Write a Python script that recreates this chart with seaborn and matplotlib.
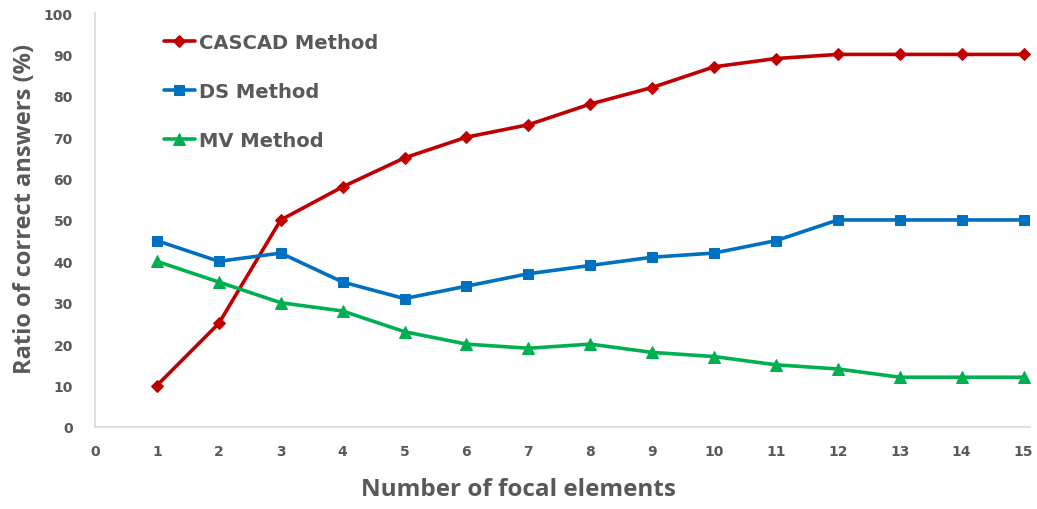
"""Ratio of correct answers vs number of focal elements."""

import matplotlib

matplotlib.use("Agg")

import matplotlib.pyplot as plt
import pandas as pd
import seaborn as sns

focal_elements = list(range(1, 16))
cascad = [10, 25, 50, 58, 65, 70, 73, 78, 82, 87, 89, 90, 90, 90, 90]
ds = [45, 40, 42, 35, 31, 34, 37, 39, 41, 42, 45, 50, 50, 50, 50]
mv = [40, 35, 30, 28, 23, 20, 19, 20, 18, 17, 15, 14, 12, 12, 12]

series = [
    ("CASCAD Method", cascad, "#C00000", "D", 6.5),
    ("DS Method", ds, "#0070C0", "s", 7.5),
    ("MV Method", mv, "#00B050", "^", 8.5),
]

TEXT_GREY = "#595959"

sns.set_style("white")

fig = plt.figure(figsize=(10.37, 5.10), dpi=100)
ax = fig.add_axes([0.0916, 0.161, 0.9014, 0.8115])

for label, values, color, marker, size in series:
    df = pd.DataFrame({"x": focal_elements, "y": values})
    sns.lineplot(data=df, x="x", y="y", color=color, marker=marker,
                 markersize=size, markeredgecolor=color, linewidth=2.6,
                 label=label, ax=ax)

ax.set_xlim(0, 15.1)
ax.set_ylim(0, 100)
ax.set_xticks(range(0, 16))
ax.set_yticks(range(0, 101, 10))
ax.tick_params(axis="both", length=0, labelsize=10, labelcolor=TEXT_GREY)
ax.tick_params(axis="x", pad=12)
ax.tick_params(axis="y", pad=16)
for tick in ax.get_xticklabels() + ax.get_yticklabels():
    tick.set_fontweight("bold")

for side in ["top", "right"]:
    ax.spines[side].set_visible(False)
for side in ["left", "bottom"]:
    ax.spines[side].set_color("#D9D9D9")
    ax.spines[side].set_linewidth(1.2)

ax.set_xlabel("Number of focal elements", fontsize=17.5, fontweight="bold",
              color=TEXT_GREY, family="Open Sans")
ax.set_ylabel("Ratio of correct answers (%)", fontsize=17, fontweight="bold",
              color=TEXT_GREY, family="Open Sans")
ax.xaxis.set_label_coords(0.453, -0.122)
ax.yaxis.set_label_coords(-0.062, 0.53)

leg = ax.legend(loc="upper left", bbox_to_anchor=(0.055, 0.995), frameon=False,
                fontsize=14, handlelength=1.6, handletextpad=0.2,
                labelspacing=1.55)
for text in leg.get_texts():
    text.set_color(TEXT_GREY)
    text.set_fontweight("bold")

fig.savefig("out.png", dpi=100)
